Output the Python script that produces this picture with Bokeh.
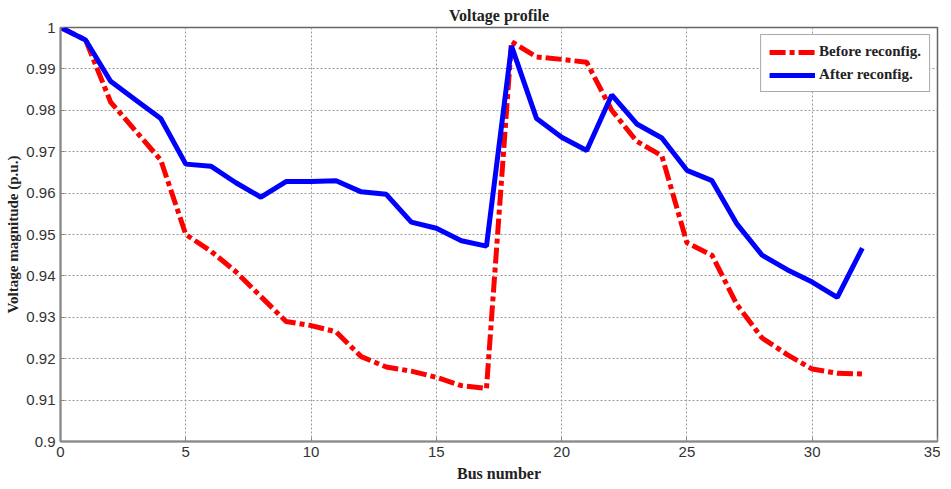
from bokeh.plotting import figure
from bokeh.models import Range1d, FixedTicker, Legend, LegendItem
from bokeh.embed import file_html
from bokeh.resources import INLINE

bus = list(range(33))
before = [1.0, 0.997, 0.982, 0.975, 0.968, 0.950, 0.946, 0.941, 0.935, 0.929,
          0.928, 0.9265, 0.9205, 0.918, 0.917, 0.9155, 0.9135, 0.9128, 0.9966, 0.9929,
          0.9923, 0.9916, 0.980, 0.9725, 0.969, 0.948, 0.945, 0.933, 0.925, 0.921,
          0.9175, 0.9165, 0.9163]
after = [1.0, 0.997, 0.987, 0.9825, 0.978, 0.967, 0.9665, 0.9625, 0.959, 0.9628,
         0.9628, 0.963, 0.9603, 0.9597, 0.953, 0.9515, 0.9485, 0.9472, 0.9955, 0.978,
         0.9735, 0.9703, 0.9837, 0.9767, 0.9733, 0.9655, 0.963, 0.9525, 0.945, 0.9415,
         0.9385, 0.9348, 0.9467]
x_ticks = [0, 5, 10, 15, 20, 25, 30, 35]
y_ticks = [0.9, 0.91, 0.92, 0.93, 0.94, 0.95, 0.96, 0.97, 0.98, 0.99, 1.0]
y_tick_labels = ["0.9", "0.91", "0.92", "0.93", "0.94", "0.95", "0.96", "0.97", "0.98", "0.99", "1"]

SERIF = "Liberation Serif"
SANS = "Liberation Sans Narrow, Liberation Sans"

p = figure(width=940, height=484, output_backend="svg", toolbar_location=None,
           x_range=Range1d(0, 35), y_range=Range1d(0.9, 1.0),
           title="Voltage profile",
           min_border_left=60, min_border_right=3, min_border_top=0, min_border_bottom=10)

p.title.align = "center"
p.title.text_font = SERIF
p.title.text_font_style = "bold"
p.title.text_font_size = "16px"
p.title.text_color = "#222222"
p.title.standoff = 8

p.xaxis.ticker = FixedTicker(ticks=x_ticks)
p.yaxis.ticker = FixedTicker(ticks=y_ticks)
p.yaxis.major_label_overrides = {t: l for t, l in zip(y_ticks, y_tick_labels)}

for ax in (p.xaxis[0], p.yaxis[0]):
    ax.axis_line_color = "#888888"
    ax.axis_line_width = 2
    ax.major_tick_line_color = "#888888"
    ax.major_tick_in = 4
    ax.major_tick_out = 0
    ax.minor_tick_line_color = None
    ax.major_label_text_font = SANS
    ax.major_label_text_font_size = "15px"
    ax.major_label_text_color = "#333333"
    ax.axis_label_text_font = SERIF
    ax.axis_label_text_font_style = "bold"
    ax.axis_label_text_font_size = "15px"
    ax.axis_label_text_color = "#222222"

p.xaxis.axis_label = "Bus number"
p.xaxis.axis_label_text_font_size = "16px"
p.yaxis.axis_label = "Voltage magnitude (p.u.)"
p.xaxis.major_label_standoff = 5
p.xaxis.axis_label_standoff = 5
p.yaxis.major_label_standoff = 5
p.yaxis.axis_label_standoff = 2

p.grid.grid_line_color = "#999999"
p.grid.grid_line_dash = "2 2"
p.grid.grid_line_width = 1
p.outline_line_color = "#666666"
p.outline_line_width = 1.5

r_before = p.line(bus, before, line_color="#ff0000", line_width=5, line_dash="16 4 5 4")
r_after = p.line(bus, after, line_color="#0000ff", line_width=5)

legend = Legend(items=[LegendItem(label="Before reconfig.", renderers=[r_before]),
                       LegendItem(label="After reconfig.", renderers=[r_after])],
                location="top_right")
legend.label_text_font = SERIF
legend.label_text_font_style = "bold"
legend.label_text_font_size = "15px"
legend.label_text_color = "#222222"
legend.glyph_width = 46
legend.glyph_height = 16
legend.label_height = 16
legend.spacing = 6
legend.padding = 8
legend.margin = 7
legend.border_line_color = "#555555"
legend.border_line_width = 1
legend.label_standoff = 4
p.add_layout(legend)

open("out.html", "w").write(file_html(p, INLINE))
